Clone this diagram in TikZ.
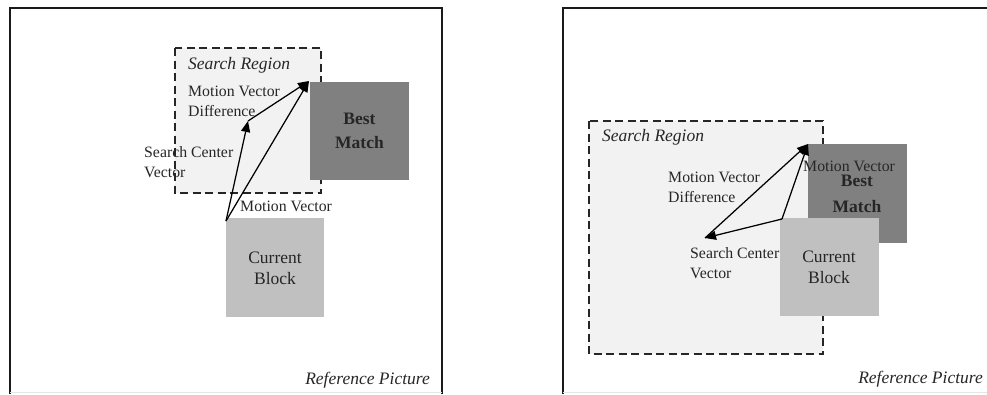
\documentclass[tikz,border=0pt]{standalone}
\usepackage{fontspec}
\setmainfont{Liberation Serif}
\usetikzlibrary{arrows.meta}
\definecolor{regionfill}{HTML}{F2F2F2}
\definecolor{bestfill}{HTML}{808080}
\definecolor{curfill}{HTML}{C0C0C0}
\definecolor{framecol}{HTML}{1A1A1A}
\begin{document}
\begin{tikzpicture}[x=1pt,y=-1pt,
  frameline/.style={draw=framecol,line width=1.5pt},
  region/.style={draw=black!85,fill=regionfill,line width=1.4pt,dash pattern=on 8pt off 4.5pt},
  bestbox/.style={fill=bestfill},
  curbox/.style={fill=curfill},
  vec/.style={draw=black,line width=1.25pt,-{Triangle[length=11pt,width=9pt]}},
  lbl/.style={inner sep=0pt,font=\fontsize{15.8}{19.5}\selectfont,align=left,text=black!85},
  boxlbl/.style={inner sep=0pt,font=\fontsize{17.5}{21}\selectfont,align=center,text=black!85},
  itlbl/.style={inner sep=0pt,font=\fontsize{17.5}{21}\selectfont\itshape,text=black!85}]
\useasboundingbox (0,0) rectangle (987,394);
% ---------------- left panel ----------------
\draw[frameline] (10,394) -- (10,8) -- (442,8) -- (442,394);
\draw[black!10,line width=0.8pt] (10,392.5) -- (442,392.5);
\path[region] (175,48) rectangle (321,193);
\path[bestbox] (310,82) rectangle (409,180);
\path[curbox] (226,218) rectangle (324,317);
\node[boxlbl,font=\fontsize{17.5}{24}\selectfont\bfseries] (lbest) at (359.5,131) {Best\\Match};
\node[boxlbl] (lcur) at (275,268.5) {Current\\Block};
\node[itlbl,anchor=west] (lsr) at (188,65) {Search Region};
\node[itlbl,anchor=east] (lref) at (430,380) {Reference Picture};
\coordinate (lo) at (226,221);
\coordinate (lc) at (248,121);
\coordinate (lb) at (309,81);
\draw[vec] (lo) -- (lc);
\draw[vec] (lc) -- (lb);
\draw[vec] (lo) -- (lb);
\node[lbl,anchor=west] (lmvd) at (188,101.5) {Motion Vector\\Difference};
\node[lbl,anchor=west] (lscv) at (144,162) {Search Center\\Vector};
\node[lbl,anchor=west] (lmv) at (240,206) {Motion Vector};
% ---------------- right panel ----------------
\draw[frameline] (563,394) -- (563,8) -- (987,8);
\draw[black!10,line width=0.8pt] (563,392.5) -- (987,392.5);
\path[region] (589,121) rectangle (823,354);
\path[bestbox] (808,144) rectangle (907,243);
\path[curbox] (780,218) rectangle (879,316);
\node[boxlbl,font=\fontsize{17.5}{26}\selectfont\bfseries] (rbest) at (857,194) {Best\\Match};
\node[boxlbl] (rcur) at (829,267.5) {Current\\Block};
\node[itlbl,anchor=west] (rsr) at (602,137) {Search Region};
\node[itlbl,anchor=east] (rref) at (983,379) {Reference Picture};
\coordinate (ro) at (782,219);
\coordinate (rc) at (705,238);
\coordinate (rb) at (808,144);
\draw[vec] (ro) -- (rc);
\draw[vec] (rc) -- (rb);
\draw[vec] (ro) -- (rb);
\node[lbl,anchor=west] (rmvd) at (668,187.5) {Motion Vector\\Difference};
\node[lbl,anchor=west] (rscv) at (690,263) {Search Center\\Vector};
\node[lbl,anchor=west] (rmv) at (803,166) {Motion Vector};
\end{tikzpicture}
\end{document}
